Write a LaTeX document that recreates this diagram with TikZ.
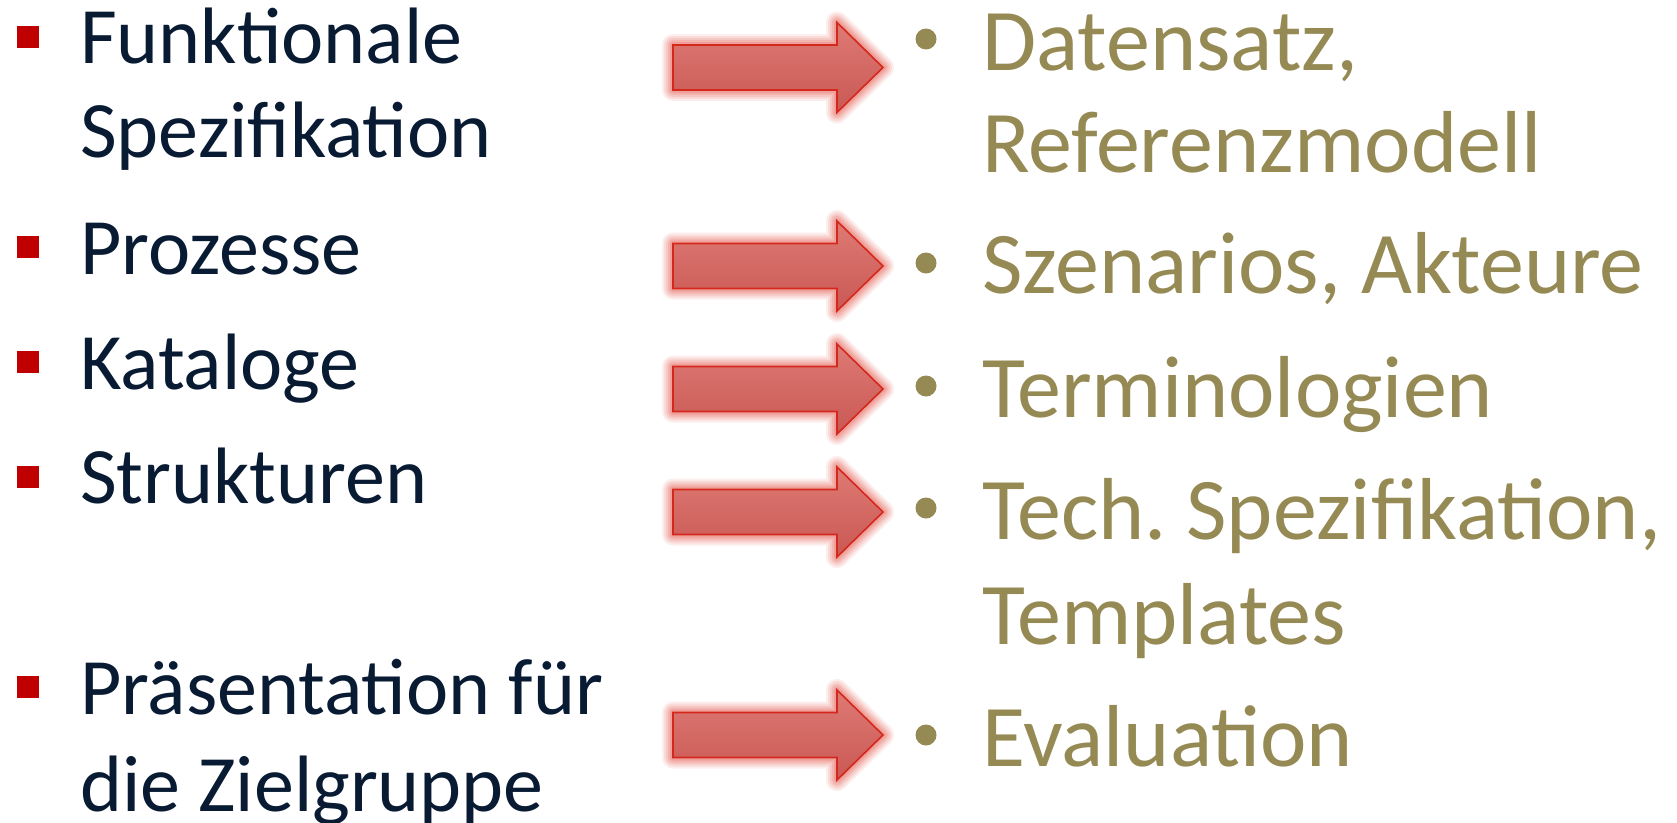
\documentclass[tikz,border=0pt]{standalone}
\usepackage{fontspec}
\setmainfont{Carlito}
\frenchspacing
\definecolor{textnavy}{RGB}{8,27,51}
\definecolor{bulletred}{RGB}{192,0,0}
\definecolor{itemolive}{RGB}{150,138,84}
\definecolor{glowred}{RGB}{230,90,80}
\definecolor{edgered}{RGB}{212,40,28}
\definecolor{arrowtop}{RGB}{222,122,116}
\definecolor{arrowmid}{RGB}{208,98,94}
\definecolor{arrowbot}{RGB}{202,88,84}

% block arrow centred vertically on #1 (shaft 673..837, head to 883)
\newcommand\blockarrow[1]{%
  \foreach \w/\o in {22/0.10,18/0.12,14/0.15,10/0.18,6/0.22}{%
    \draw[draw=glowred, line width=\w, opacity=\o, line join=round]
      (673,#1-22.5) -- (837,#1-22.5) -- (837,#1-45) -- (883,#1)
      -- (837,#1+45) -- (837,#1+22.5) -- (673,#1+22.5) -- cycle;
  }
  \draw[arrowbody]
      (673,#1-22.5) -- (837,#1-22.5) -- (837,#1-45) -- (883,#1)
      -- (837,#1+45) -- (837,#1+22.5) -- (673,#1+22.5) -- cycle;
}

\begin{document}
\begin{tikzpicture}[x=1pt,y=-1pt,
  lefttext/.style={anchor=base west, inner sep=0, text=textnavy,
                   font=\fontsize{80}{95}\selectfont},
  righttext/.style={anchor=base west, inner sep=0, text=itemolive,
                    font=\fontsize{88}{104}\selectfont},
  sqbullet/.style={rectangle, fill=bulletred, minimum size=22, inner sep=0},
  dotbullet/.style={circle, fill=itemolive, minimum size=21, inner sep=0},
  arrowbody/.style={draw=edgered, line width=1.6, line join=miter,
                    top color=arrowtop, middle color=arrowmid, bottom color=arrowbot}]

  \useasboundingbox[fill=white] (0,0) rectangle (1677,822);

  % left column: red square bullets and items
  \node[sqbullet] (s1) at (28,37) {};
  \node[lefttext] (l1a) at (80,63) {Funktionale};
  \node[lefttext] (l1b) at (80,157) {Spezifikation};

  \node[sqbullet] (s2) at (28,247) {};
  \node[lefttext] (l2) at (80,274) {Prozesse};

  \node[sqbullet] (s3) at (28,362) {};
  \node[lefttext] (l3) at (80,389) {Kataloge};

  \node[sqbullet] (s4) at (28,477) {};
  \node[lefttext] (l4) at (80,503) {Strukturen};

  \node[sqbullet] (s5) at (28,687) {};
  \node[lefttext] (l5a) at (80,714) {Präsentation für};
  \node[lefttext] (l5b) at (80,811) {die Zielgruppe};

  % middle column: glowing block arrows
  \blockarrow{67.5}
  \blockarrow{266}
  \blockarrow{389}
  \blockarrow{512}
  \blockarrow{735}

  % right column: round bullets and results
  \node[dotbullet] (d1) at (926,39) {};
  \node[righttext] (r1a) at (982,70) {Datensatz,};
  \node[righttext] (r1b) at (982,172) {Referenzmodell};

  \node[dotbullet] (d2) at (926,263) {};
  \node[righttext] (r2) at (982,293) {Szenarios, Akteure};

  \node[dotbullet] (d3) at (926,386) {};
  \node[righttext] (r3) at (982,417) {Terminologien};

  \node[dotbullet] (d4) at (926,508) {};
  \node[righttext] (r4a) at (982,539) {Tech. Spezifikation,};
  \node[righttext] (r4b) at (982,644) {Templates};

  \node[dotbullet] (d5) at (926,735) {};
  \node[righttext] (r5) at (982,766) {Evaluation};
\end{tikzpicture}
\end{document}
